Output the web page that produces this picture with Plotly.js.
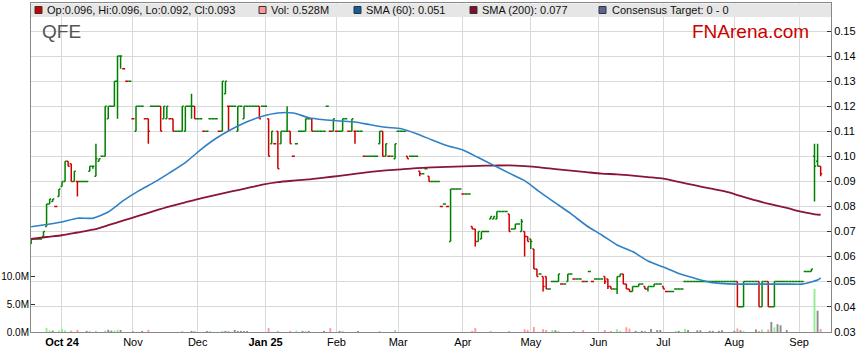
<!DOCTYPE html>
<html><head><meta charset="utf-8">
<script src="https://cdn.plot.ly/plotly-3.0.1.min.js"></script>
<style>html,body{margin:0;padding:0;background:#fff}#chart{width:859px;height:363px}</style>
</head><body><div id="chart"></div>
<script>
// ---- trading days (weekdays) per month ----
const sep24 = [17,18,19,20,23,24,25,26,27,30];
const oct24 = [1,2,3,4,7,8,9,10,11,14,15,16,17,18,21,22,23,24,25,28,29,30,31];
const nov24 = [1,4,5,6,7,8,11,12,13,14,15,18,19,20,21,22,25,26,27,28,29];
const dec24 = [2,3,4,5,6,9,10,11,12,13,16,17,18,19,20,23,24,25,26,27,30,31];
const jan25 = [1,2,3,6,7,8,9,10,13,14,15,16,17,20,21,22,23,24,27,28,29,30,31];
const feb25 = [3,4,5,6,7,10,11,12,13,14,17,18,19,20,21,24,25,26,27,28];
const mar25 = [3,4,5,6,7,10,11,12,13,14,17,18,19,20,21,24,25,26,27,28,31];
const apr25 = [1,2,3,4,7,8,9,10,11,14,15,16,17,18,21,22,23,24,25,28,29,30];
const may25 = [1,2,5,6,7,8,9,12,13,14,15,16,19,20,21,22,23,26,27,28,29,30];
const jun25 = [2,3,4,5,6,9,10,11,12,13,16,17,18,19,20,23,24,25,26,27,30];
const jul25 = [1,2,3,4,7,8,9,10,11,14,15,16,17,18,21,22,23,24,25,28,29,30,31];
const aug25 = [1,4,5,6,7,8,11,12,13,14,15,18,19,20,21,22,25,26,27,28,29];
const sep25 = [1,2,3,4,5,8,9,10];

// ---- OHLC (A$) ----
const opens = [
 .065,.067,.067,.067,.068,.072,.081,.082,.080,.084,
 .088,.090,.098,.097,.090,.090,.090,.090,.090,.094,.096,.092,.098,.100,.100,.115,.120,.120,.130,.140,.135,.130,.130,
 .115,.110,.120,.120,.115,.115,.120,.120,.120,.120,.115,.115,.115,.115,.110,.110,.110,.110,.120,.120,.120,
 .115,.115,.110,.110,.115,.115,.115,.110,.110,.125,.120,.120,.120,.110,.120,.115,.120,.120,.120,.120,.120,.120,
 .120,.115,.105,.105,.110,.105,.110,.110,.110,.100,.105,.110,.110,.110,.115,.115,.110,.110,.110,.110,.120,.110,.110,
 .110,.110,.110,.115,.110,.110,.110,.110,.110,.100,.100,.100,.100,.100,.105,.110,.100,.100,.100,.099,
 .110,.110,.110,.100,.100,.100,.100,.094,.093,.095,.092,.090,.090,.090,.080,.081,.080,.066,.087,.087,.087,
 .085,.085,.085,.072,.071,.066,.067,.070,.070,.075,.075,.075,.078,.078,.078,.077,.071,.071,.073,.070,.070,.068,
 .067,.063,.055,.053,.052,.052,.047,.050,.050,.050,.049,.049,.050,.053,.051,.051,.051,.050,.050,.054,.050,.051,
 .051,.051,.052,.051,.048,.047,.047,.052,.053,.049,.047,.046,.048,.048,.049,.048,.047,.048,.048,.049,.049,
 .048,.046,.046,.046,.047,.047,.047,.050,.050,.050,.050,.050,.050,.050,.050,.050,.050,.050,.050,.050,.050,.050,.050,
 .050,.050,.040,.040,.050,.050,.050,.050,.050,.040,.050,.050,.040,.040,.050,.050,.050,.050,.050,.050,.050,
 .050,.050,.054,.054,.054,.100,.098,.096
];
const highs = [
 .067,.067,.067,.067,.070,.081,.083,.083,.080,.087,
 .090,.098,.098,.097,.094,.090,.090,.090,.090,.096,.096,.105,.099,.100,.120,.120,.120,.130,.140,.140,.135,.130,.130,
 .115,.120,.120,.120,.115,.115,.120,.120,.120,.120,.120,.120,.115,.115,.110,.110,.120,.120,.120,.125,.120,
 .115,.115,.110,.110,.115,.115,.115,.110,.130,.130,.120,.120,.120,.120,.120,.120,.120,.120,.120,.120,.120,.120,
 .120,.115,.110,.105,.110,.110,.110,.120,.110,.100,.105,.110,.110,.115,.115,.115,.110,.110,.110,.110,.120,.110,.115,
 .110,.110,.115,.115,.110,.115,.110,.110,.110,.100,.100,.100,.100,.100,.110,.110,.105,.100,.100,.105,
 .110,.110,.110,.100,.100,.100,.100,.094,.093,.095,.092,.090,.090,.090,.080,.081,.080,.087,.087,.087,.087,
 .085,.085,.085,.072,.071,.070,.070,.070,.070,.076,.076,.078,.078,.078,.078,.077,.071,.073,.073,.075,.070,.068,
 .067,.063,.055,.053,.052,.052,.047,.050,.050,.053,.049,.049,.053,.053,.051,.051,.051,.050,.050,.054,.050,.051,
 .051,.051,.052,.051,.048,.047,.052,.053,.053,.049,.047,.048,.048,.049,.049,.048,.048,.048,.049,.049,.049,
 .048,.046,.046,.046,.047,.047,.047,.050,.050,.050,.050,.050,.050,.050,.050,.050,.050,.050,.050,.050,.050,.050,.050,
 .050,.050,.040,.050,.050,.050,.050,.050,.050,.050,.050,.050,.040,.050,.050,.050,.050,.050,.050,.050,.050,
 .050,.050,.054,.054,.055,.105,.105,.096
];
const lows = [
 .065,.067,.067,.067,.068,.072,.081,.082,.080,.084,
 .088,.090,.096,.090,.090,.084,.090,.090,.090,.094,.095,.092,.098,.100,.100,.115,.120,.120,.115,.135,.135,.130,.130,
 .115,.110,.120,.120,.115,.105,.120,.120,.120,.110,.115,.115,.115,.110,.110,.110,.110,.110,.120,.115,.115,
 .115,.115,.110,.110,.115,.115,.115,.110,.110,.125,.110,.120,.120,.110,.120,.115,.120,.120,.120,.120,.115,.120,
 .120,.100,.105,.105,.095,.105,.110,.110,.105,.100,.105,.110,.110,.110,.115,.110,.110,.110,.110,.110,.120,.110,.110,
 .110,.110,.110,.115,.110,.110,.105,.110,.110,.100,.100,.100,.100,.100,.105,.100,.100,.100,.100,.099,
 .110,.110,.110,.099,.100,.100,.100,.092,.093,.095,.090,.090,.090,.090,.080,.081,.080,.066,.087,.087,.087,
 .085,.085,.085,.071,.064,.066,.067,.070,.070,.075,.075,.075,.078,.078,.078,.070,.071,.071,.073,.070,.060,.066,
 .063,.055,.052,.053,.046,.047,.047,.050,.050,.050,.049,.049,.050,.053,.051,.051,.051,.050,.050,.054,.050,.051,
 .051,.051,.049,.047,.047,.047,.045,.052,.049,.047,.046,.046,.048,.048,.049,.047,.046,.048,.048,.049,.049,
 .047,.046,.046,.046,.047,.047,.047,.050,.050,.050,.050,.050,.050,.050,.050,.050,.050,.050,.050,.050,.050,.050,.050,
 .050,.040,.040,.040,.050,.050,.050,.050,.040,.040,.050,.040,.040,.040,.050,.050,.050,.050,.050,.050,.050,
 .050,.050,.054,.054,.054,.082,.096,.092
];
const closes = [
 .067,.067,.067,.067,.070,.081,.083,.083,.080,.087,
 .090,.098,.096,.090,.094,.090,.090,.090,.090,.096,.096,.099,.099,.100,.120,.120,.120,.130,.140,.140,.135,.130,.130,
 .115,.120,.120,.120,.115,.110,.120,.120,.120,.110,.120,.120,.115,.110,.110,.110,.120,.120,.120,.120,.115,
 .115,.115,.110,.110,.115,.115,.115,.110,.130,.130,.120,.120,.120,.120,.120,.120,.120,.120,.120,.120,.115,.120,
 .120,.100,.110,.105,.095,.110,.110,.110,.105,.100,.105,.110,.110,.115,.115,.110,.110,.110,.110,.110,.120,.110,.115,
 .110,.110,.115,.115,.110,.115,.110,.110,.110,.100,.100,.100,.100,.100,.110,.100,.105,.100,.100,.105,
 .110,.110,.110,.099,.100,.100,.100,.093,.093,.095,.090,.090,.090,.090,.080,.081,.080,.087,.087,.087,.087,
 .085,.085,.085,.071,.066,.070,.070,.070,.070,.076,.076,.078,.078,.078,.078,.070,.071,.073,.073,.074,.068,.066,
 .066,.055,.052,.053,.048,.047,.047,.050,.050,.053,.049,.049,.053,.053,.051,.051,.051,.050,.050,.054,.050,.051,
 .051,.051,.050,.048,.047,.047,.052,.053,.049,.047,.046,.048,.048,.049,.049,.047,.048,.048,.049,.049,.049,
 .047,.046,.046,.046,.047,.047,.047,.050,.050,.050,.050,.050,.050,.050,.050,.050,.050,.050,.050,.050,.050,.050,.050,
 .050,.040,.040,.050,.050,.050,.050,.050,.040,.050,.050,.040,.040,.050,.050,.050,.050,.050,.050,.050,.050,
 .050,.050,.054,.054,.055,.096,.096,.093
];
// ---- volume (millions of shares) ----
const volumesM = [
 0,0,0,0,0,0.7,0.3,0.25,0,0.25,
 0.6,0.3,0,0.25,0,0.4,0,0,0.2,0.2,0,0.2,0,0,0.25,0.4,0.25,0.25,0.4,0.35,0,0,0,
 0.2,0,0,0.2,0,0.4,0,0,0,0,0,0,0,0,0,0,0.2,0,0,0.2,0.2,
 0,0,0,0.2,0.2,0,0,0,0.2,0.2,0.2,0,0.35,0.2,0.2,0.2,0.2,0,0,0,0,0,
 0,0.7,0,0,0.2,0,0,0,0.2,0,0.25,0,0.2,0.2,0.2,0,0,0,0,0.2,0,0.7,0,
 0,0.2,0.2,0,0,0,0,0.2,0,0,0,0,0,0,0.2,0,0,0,0,0.35,
 0,0,0,0,0,0,0,0,0,0,0,0,0,0,0,0,0,0,0,0,0,
 0,0,0,0.2,0.7,0,0,0,0,0.2,0,0,0,0,0,0.2,0,0,0,0,0.5,0.35,
 0,0.9,0,0,0.5,0.35,0,0.35,0.3,0.2,0,0,0,0,0.2,0,0,0.35,0,0,0,0,
 0,0,0.35,0,0.2,0,0.5,0.2,0,0.85,0.6,0,0.2,0,0.2,0.2,0,0.55,0,0.35,0.35,
 0,0,0,0,0.2,0.2,0,0.6,0.35,0,0,0.3,0.3,0,0,0.2,0.2,0,0.2,0.3,0,0,0,
 0.2,0.65,0.3,0.2,0,0,0,0.45,0.2,0.45,0,0.45,1.8,0.85,1.4,1.2,0,0.35,0,0,0,
 0,0,0,0,0,7.7,3.8,0.528
];
// ---- moving averages (weekly samples) ----
const smaDates = ['2024-09-17','2024-09-24','2024-10-01','2024-10-08','2024-10-15','2024-10-22','2024-10-29','2024-11-05','2024-11-12','2024-11-19','2024-11-26','2024-12-03','2024-12-10','2024-12-17','2024-12-24','2024-12-31','2025-01-07','2025-01-14','2025-01-21','2025-01-28','2025-02-04','2025-02-11','2025-02-18','2025-02-25','2025-03-04','2025-03-11','2025-03-18','2025-03-25','2025-04-01','2025-04-08','2025-04-15','2025-04-22','2025-04-29','2025-05-06','2025-05-13','2025-05-20','2025-05-27','2025-06-03','2025-06-10','2025-06-17','2025-06-24','2025-07-01','2025-07-08','2025-07-15','2025-07-22','2025-07-29','2025-08-05','2025-08-12','2025-08-19','2025-08-26','2025-09-02','2025-09-09','2025-09-10'];
const sma60 = [.0719,.0728,.0738,.0753,.0753,.0778,.0824,.0863,.0897,.0935,.0975,.1027,.1072,.1108,.1138,.1160,.1173,.1173,.1154,.1146,.1141,.1137,.1126,.1116,.1110,.1090,.1065,.1042,.1025,.0995,.0964,.0933,.0903,.0857,.0814,.0771,.0724,.0686,.0646,.0620,.0582,.0558,.0532,.0514,.0498,.0492,.0490,.0490,.0490,.0490,.0490,.0506,.0515];
const sma200 = [.0670,.0678,.0685,.0696,.0707,.0725,.0744,.0763,.0782,.0800,.0816,.0832,.0846,.0860,.0873,.0887,.0897,.0903,.0908,.0915,.0922,.0930,.0938,.0944,.0948,.0953,.0956,.0958,.0960,.0962,.0963,.0964,.0961,.0956,.0949,.0943,.0937,.0931,.0928,.0923,.0917,.0911,.0898,.0885,.0872,.0860,.0842,.0824,.0808,.0794,.0778,.0767,.0767];
// ---- axis labels ----
const monthTickDates = ['2024-10-01','2024-11-01','2024-12-02','2025-01-01','2025-02-03','2025-03-03','2025-04-01','2025-05-01','2025-06-02','2025-07-01','2025-08-01','2025-09-01'];
const monthTickText = ['<b>Oct 24</b>','Nov','Dec','<b>Jan 25</b>','Feb','Mar','Apr','May','Jun','Jul','Aug','Sep'];
const priceTicks = [0.03,0.04,0.05,0.06,0.07,0.08,0.09,0.10,0.11,0.12,0.13,0.14,0.15];
const volTicks = [0, 5e6, 10e6];
const volTickText = ['0.0M','5.0M','10.0M'];
const legendTexts = ['Op:0.096, Hi:0.096, Lo:0.092, Cl:0.093','Vol: 0.528M','SMA (60): 0.051','SMA (200): 0.077','Consensus Target: 0 - 0'];

// ---- build ----
const months = [[2024,9,sep24],[2024,10,oct24],[2024,11,nov24],[2024,12,dec24],[2025,1,jan25],[2025,2,feb25],[2025,3,mar25],[2025,4,apr25],[2025,5,may25],[2025,6,jun25],[2025,7,jul25],[2025,8,aug25],[2025,9,sep25]];
const dates = [];
const p2 = n => String(n).padStart(2,'0');
months.forEach(([y,m,ds]) => ds.forEach(d => dates.push(y+'-'+p2(m)+'-'+p2(d))));

const GREEN = '#008000', RED = '#d00000';
const up = {o:[],h:[],l:[],c:[]}, dn = {o:[],h:[],l:[],c:[]};
const volY = [], volC = [];
for (let i = 0; i < dates.length; i++) {
  const prev = i > 0 ? closes[i-1] : opens[i];
  const isUp = closes[i] >= prev;
  const a = isUp ? up : dn, b = isUp ? dn : up;
  a.o.push(opens[i]); a.h.push(highs[i]); a.l.push(lows[i]); a.c.push(closes[i]);
  b.o.push(null); b.h.push(null); b.l.push(null); b.c.push(null);
  volY.push(volumesM[i] * 1e6);
  volC.push(closes[i] > prev ? '#90ee90' : (closes[i] < prev ? '#ff9999' : '#8a8a8a'));
}

const FONT = 'Liberation Sans, Arial, sans-serif';
const traces = [
  {type:'bar', x:dates, y:volY, yaxis:'y2', marker:{color:volC, line:{width:0}}, width:0.6, hoverinfo:'skip'},
  {type:'scatter', mode:'lines', x:smaDates, y:sma200, line:{color:'#8a1538', width:1.8, shape:'spline', smoothing:0.6}, hoverinfo:'skip'},
  {type:'scatter', mode:'lines', x:smaDates, y:sma60, line:{color:'#2f80c4', width:1.6, shape:'spline', smoothing:0.6}, hoverinfo:'skip'},
  {type:'ohlc', x:dates, open:up.o, high:up.h, low:up.l, close:up.c, tickwidth:0.5,
   increasing:{line:{color:GREEN, width:1.5}}, decreasing:{line:{color:GREEN, width:1.5}}, hoverinfo:'skip'},
  {type:'ohlc', x:dates, open:dn.o, high:dn.h, low:dn.l, close:dn.c, tickwidth:0.5,
   increasing:{line:{color:RED, width:1.5}}, decreasing:{line:{color:RED, width:1.5}}, hoverinfo:'skip'}
];

const L = 31, R = 831, T = 3, B = 332;
const px = v => (v - L) / (R - L);
const py = v => (B - v) / (B - T);

const squares = [[35,'#cc0000'],[259,'#ff9999'],[354,'#0f5fa0'],[470,'#80102a'],[599,'#5c6496']];
const textX = [47,271,366,482,612];
const shapes = [
  {type:'rect', xref:'paper', yref:'paper', x0:0, x1:1, y0:py(17), y1:py(3.6), fillcolor:'#e6e6e6', line:{width:0}, layer:'above'}
];
squares.forEach(([x,c]) => shapes.push({type:'rect', xref:'paper', yref:'paper', x0:px(x), x1:px(x+7), y0:py(13.5), y1:py(6.5), fillcolor:c, line:{color:'#333', width:1}, layer:'above'}));
const annotations = legendTexts.map((t,i) => ({xref:'paper', yref:'paper', x:px(textX[i]-2), y:py(10.5), xanchor:'left', yanchor:'middle', text:t, showarrow:false, font:{family:FONT, size:11, color:'#111'}}));
annotations.push({xref:'paper', yref:'paper', x:px(40), y:py(32), xanchor:'left', yanchor:'middle', text:'QFE', showarrow:false, font:{family:FONT, size:19, color:'#555'}});
annotations.push({xref:'paper', yref:'paper', x:px(690), y:py(32), xanchor:'left', yanchor:'middle', text:'FNArena.com', showarrow:false, font:{family:FONT, size:19, color:'#cc0000'}});

const layout = {
  width:859, height:363,
  margin:{l:L, r:859-R, t:T, b:363-B},
  paper_bgcolor:'#fff', plot_bgcolor:'#fff',
  showlegend:false,
  font:{family:FONT, size:11, color:'#000'},
  xaxis:{type:'category', categoryorder:'array', categoryarray:dates, range:[-0.05, 259.35],
    tickvals:monthTickDates, ticktext:monthTickText, ticks:'', showgrid:true, gridcolor:'#d9d9d9', gridwidth:1,
    showline:true, linecolor:'#888', linewidth:1, mirror:true, rangeslider:{visible:false},
    tickfont:{family:FONT, size:11, color:'#000'}, fixedrange:true},
  yaxis:{side:'right', range:[0.02988, 0.1612], tickvals:priceTicks, tickformat:'.2f', showgrid:true, gridcolor:'#d9d9d9', gridwidth:1,
    zeroline:false, showline:true, linecolor:'#888', linewidth:1, ticks:'inside', ticklen:4, tickcolor:'#333',
    tickfont:{family:FONT, size:11, color:'#000'}},
  yaxis2:{overlaying:'y', side:'left', range:[0, 58.75e6], tickvals:volTicks, ticktext:volTickText, showgrid:false, zeroline:false,
    showline:true, linecolor:'#888', linewidth:1, ticks:'inside', ticklen:4, tickcolor:'#333', ticklabelstandoff:-1,
    tickfont:{family:FONT, size:10, color:'#000'}},
  shapes:shapes,
  annotations:annotations
};
Plotly.newPlot('chart', traces, layout, {staticPlot:true, displayModeBar:false});
</script>
</body></html>
